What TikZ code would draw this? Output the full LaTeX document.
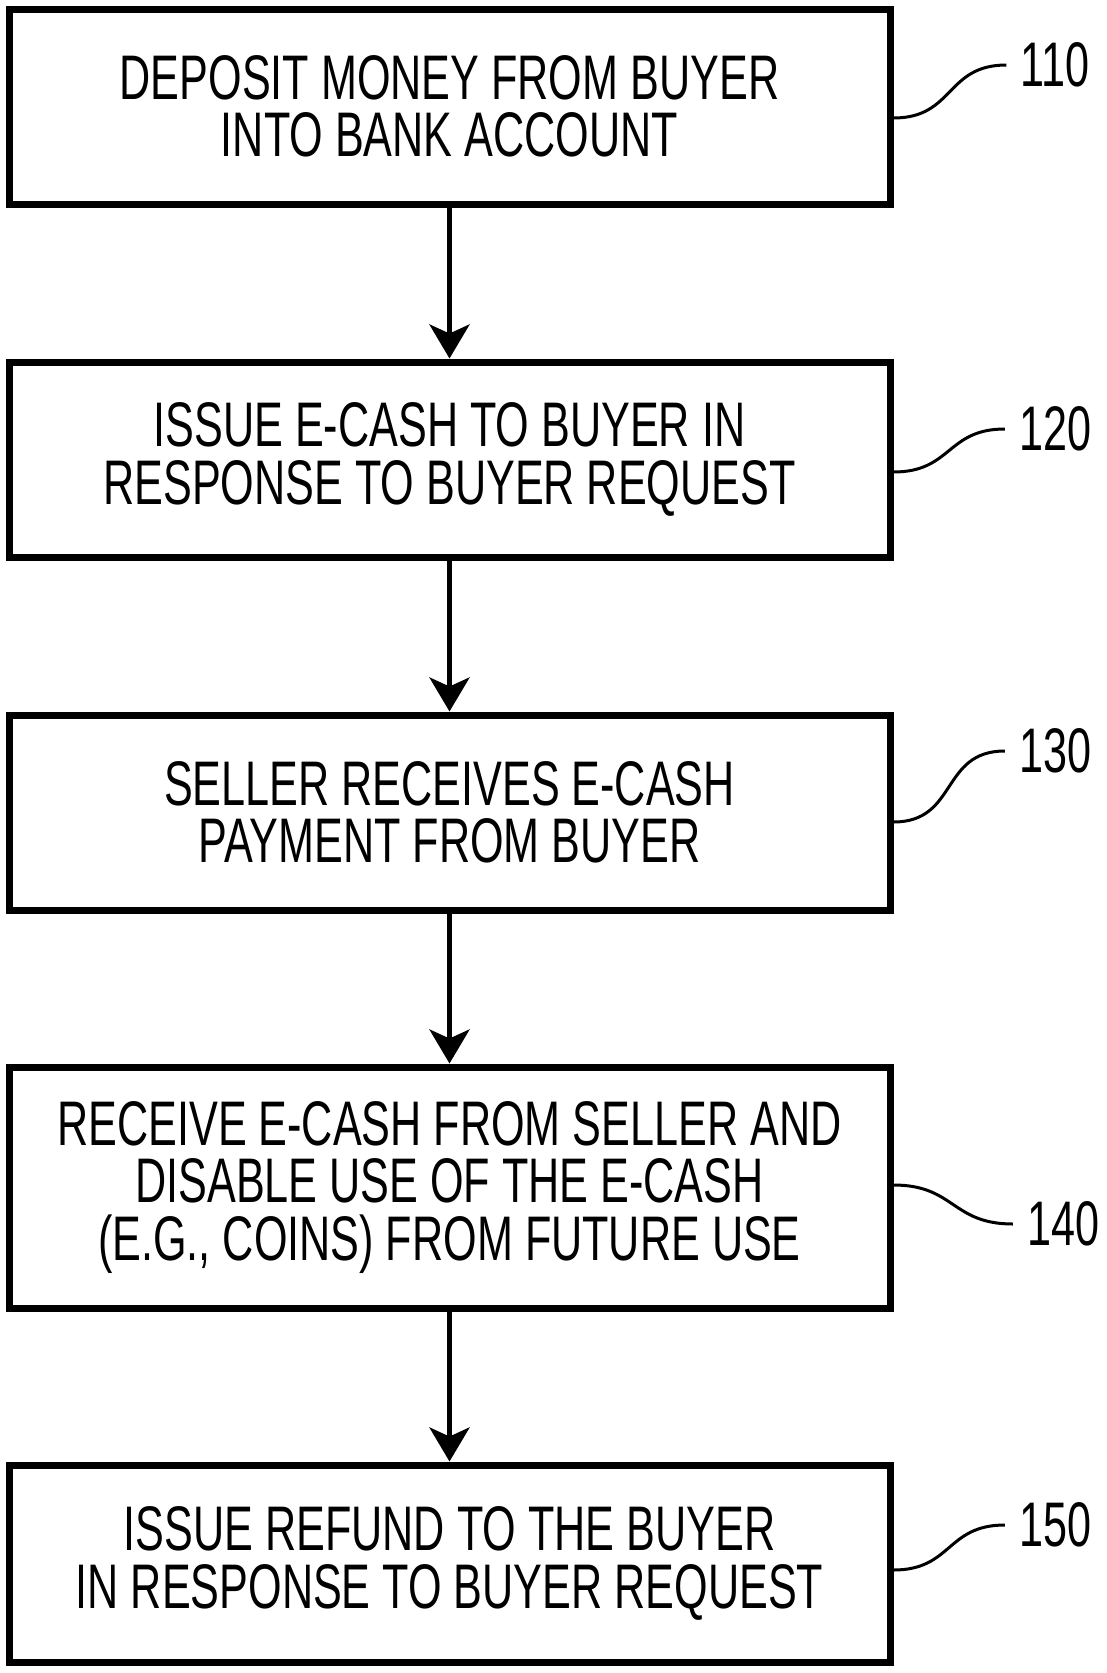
\documentclass[tikz,border=0pt]{standalone}
\usepackage{fontspec}
\setmainfont{Liberation Sans}[FakeStretch=0.685]
\usetikzlibrary{arrows.meta, positioning}
\tikzset{
    stepbox/.style={rectangle, draw=black, line width=7pt, minimum width=881pt, text centered, align=center, font=\fontsize{63}{57.5}\selectfont},
    numeral/.style={inner sep=0pt, inner xsep=14pt, font=\fontsize{63}{63}\selectfont},
    arrow/.style={line width=5pt, -{Stealth[length=34pt, width=40pt, inset=9pt]}},
    leader/.style={line width=3pt, out=0, in=180, looseness=1.25}
}
\begin{document}
\begin{tikzpicture}[x=1pt, y=-1pt]
        \useasboundingbox (0,0) rectangle (1107,1673);
        % Steps
        \node (deposit) at (449.5,106.5) [stepbox, minimum height=195pt] {DEPOSIT MONEY FROM BUYER\\INTO BANK ACCOUNT};
        \node (issue) at (449.5,459.5) [stepbox, minimum height=195pt] {ISSUE E-CASH TO BUYER IN\\RESPONSE TO BUYER REQUEST};
        \node (seller) at (449.5,812.5) [stepbox, minimum height=195pt] {SELLER RECEIVES E-CASH\\PAYMENT FROM BUYER};
        \node (disable) at (449.5,1187.5) [stepbox, minimum height=241pt] {RECEIVE E-CASH FROM SELLER AND\\DISABLE USE OF THE E-CASH\\(E.G., COINS) FROM FUTURE USE};
        \node (refund) at (449.5,1563.5) [stepbox, minimum height=197pt] {ISSUE REFUND TO THE BUYER\\IN RESPONSE TO BUYER REQUEST};
        
        % Arrows
        \draw[arrow] (deposit) -- (issue);
        \draw[arrow] (issue) -- (seller);
        \draw[arrow] (seller) -- (disable);
        \draw[arrow] (disable) -- (refund);
        
        % Reference numerals
        \node (n110) at (1055,65) [numeral] {110};
        \node (n120) at (1055,429) [numeral] {120};
        \node (n130) at (1055,751) [numeral] {130};
        \node (n140) at (1063,1224) [numeral] {140};
        \node (n150) at (1055,1525) [numeral] {150};
        
        \draw[leader] ([yshift=-11.5pt]deposit.east) to (n110.west);
        \draw[leader] ([yshift=-12.5pt]issue.east) to (n120.west);
        \draw[leader] ([yshift=-9.5pt]seller.east) to (n130.west);
        \draw[leader] ([yshift=2.5pt]disable.east) to (n140.west);
        \draw[leader] ([yshift=-6.5pt]refund.east) to (n150.west);
    \end{tikzpicture}
\end{document}
